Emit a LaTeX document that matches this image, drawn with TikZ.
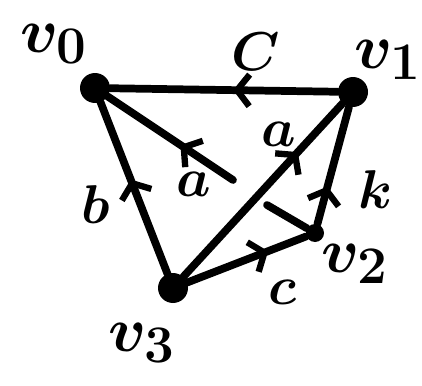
\documentclass[tikz,border=0pt]{standalone}
\usepackage{tikz}
\usetikzlibrary{arrows.meta,decorations.markings}
\tikzstyle{vtx} = [circle, fill=black, inner sep=0pt, minimum size=0.6cm]
\tikzstyle{edge} = [line width=4.4pt, line cap=round]
\tikzstyle{vlab} = [font=\Huge\boldmath, scale=1.45, inner sep=0.5pt]
\tikzstyle{elab} = [font=\Huge\boldmath, scale=1.25, inner sep=0.5pt]
\tikzset{midarrow/.style={postaction=decorate, decoration={markings,
    mark=at position #1 with {\arrow{Straight Barb[length=7pt, width=18pt, line width=3.6pt]}}}}}

\begin{document}
\begin{tikzpicture}[x=0.02cm, y=-0.02cm]
                \useasboundingbox (0,0) rectangle (422,385);
                % vertices
                \node[vtx] (v0) at (95, 88) {};
                \node[vtx] (v1) at (353, 92) {};
                \node[vtx, minimum size=0.36cm] (v2) at (315, 233) {};
                \node[vtx] (v3) at (173, 288) {};
                \coordinate (e0) at (233, 180);
                \coordinate (e2) at (267, 205);
                
                \node[vlab] (l0) at (54, 44) {$v_0$};
                \node[vlab] (l1) at (388, 60) {$v_1$};
                \node[vlab] (l2) at (355, 264) {$v_2$};
                \node[vlab] (l3) at (142, 343) {$v_3$};
                
                % edges
                \draw[edge, midarrow=0.46] (v1) -- (v0);
                \draw[edge, midarrow=0.55] (v3) -- (v0);
                \draw[edge, midarrow=0.72] (v3) -- (v1);
                \draw[edge, midarrow=0.68] (v3) -- (v2);
                \draw[edge, midarrow=0.32] (v2) -- (v1);
                \draw[edge, midarrow=0.42] (e0) -- (v0);
                \draw[edge] (v2) -- (e2);
                
                \node[elab] (lc) at (256, 52) {$C$};
                \node[elab] (lb) at (96, 205) {$b$};
                \node[elab] (la1) at (194, 184) {$a$};
                \node[elab] (la2) at (279, 134) {$a$};
                \node[elab] (lk) at (375, 190) {$k$};
                \node[elab] (lc2) at (283, 292) {$c$};
            \end{tikzpicture}
\end{document}
